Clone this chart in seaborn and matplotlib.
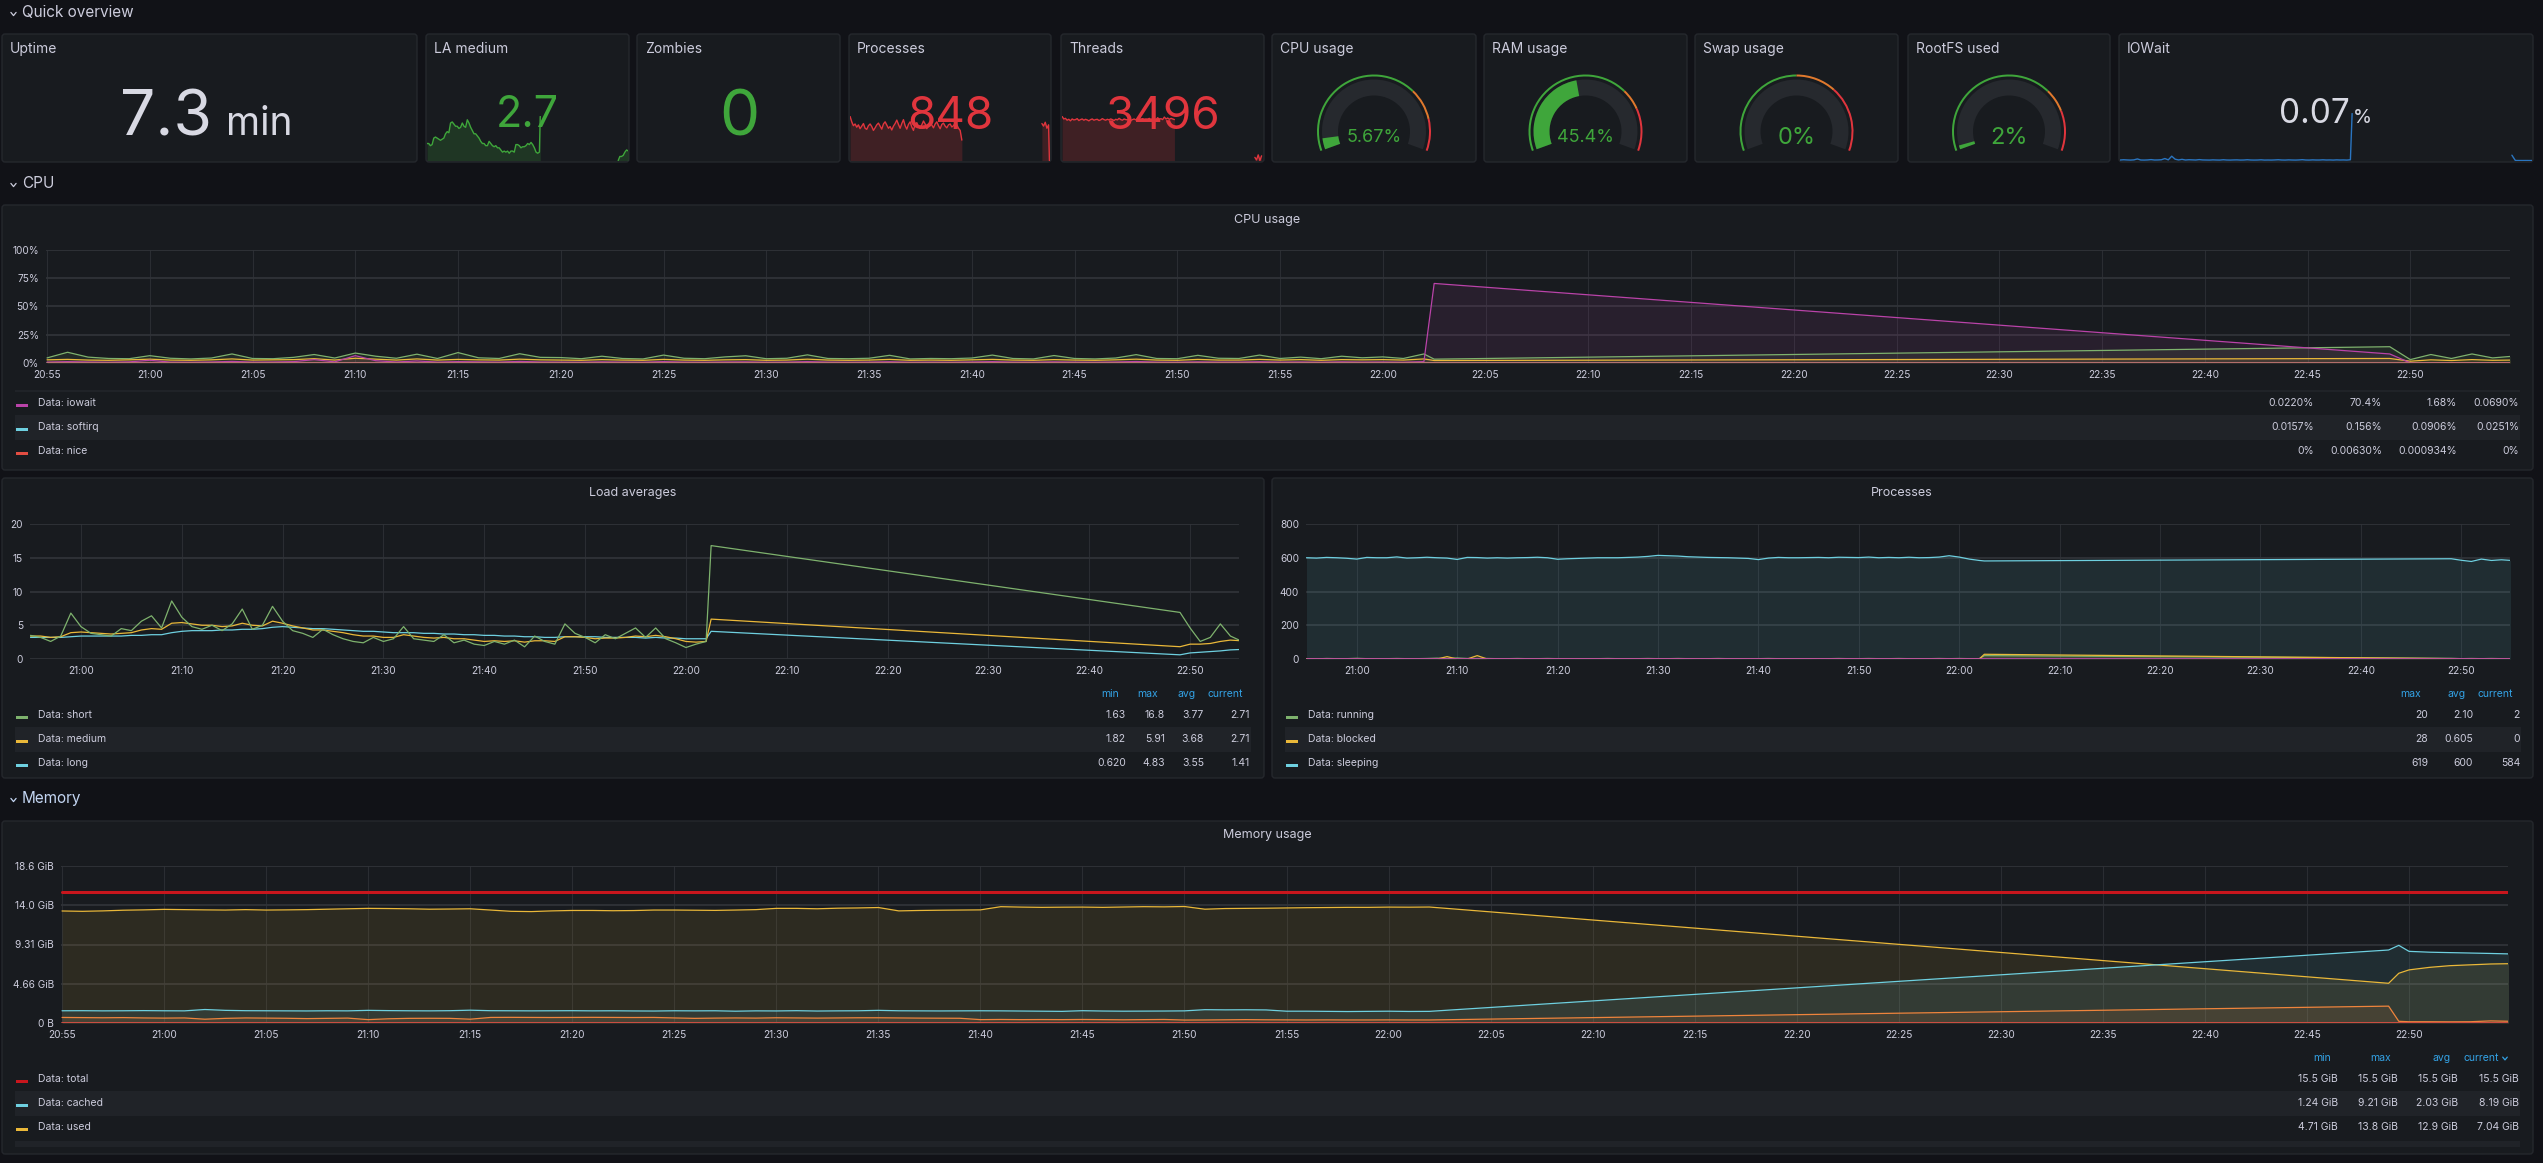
import numpy as np
import pandas as pd
import matplotlib
matplotlib.use("Agg")
import matplotlib.pyplot as plt
import matplotlib.dates as mdates
from matplotlib.patches import FancyBboxPatch, Rectangle, Wedge
import seaborn as sns

# ============================ DATA ============================
# minutes after 20:55 (data gap between 22:02 and 22:49 is connected by the graph)
t_main = list(range(68)) + [67.5] + list(range(114, 121))
t_mem = list(range(68)) + [114, 114.5, 115, 116, 117, 118, 119, 120]
t_cpu_low = [0, 5, 10, 15, 20, 25, 30, 35, 40, 45, 50, 55, 60, 65, 67.5, 114, 117, 120]
t_flat = [0, 120]

# --- CPU usage (%) ---
cpu_user = [4.5, 9.5, 5.2, 4.0, 3.8, 6.5, 4.2, 3.6, 4.4, 8.0,
            4.0, 3.8, 5.0, 7.5, 4.4, 8.8, 6.0, 4.2, 7.8, 4.0,
            9.2, 4.6, 4.0, 8.2, 5.0, 4.8, 3.8, 6.0, 4.0, 3.6,
            7.0, 4.2, 3.8, 5.4, 6.4, 3.8, 4.2, 7.2, 4.0, 3.8,
            4.2, 6.8, 3.6, 4.0, 3.8, 4.4, 7.0, 4.0, 3.6, 6.6,
            4.0, 3.6, 4.4, 7.4, 4.0, 3.8, 6.8, 4.2, 4.0, 7.0,
            4.0, 5.2, 3.8, 6.0, 4.6, 5.4, 4.0, 8.0,
            3.4,
            14.4, 3.0, 7.5, 4.0, 8.0, 4.5, 6.0]
cpu_system = [2.8, 3.2, 2.6, 2.4, 2.8, 3.4, 2.6, 2.4, 2.8, 3.6,
              2.6, 2.8, 3.0, 3.8, 2.6, 4.2, 3.4, 2.6, 3.6, 2.6,
              3.2, 2.8, 2.6, 3.4, 2.8, 2.6, 2.4, 3.0, 2.6, 2.4,
              3.2, 2.6, 2.4, 2.8, 3.0, 2.4, 2.6, 3.4, 2.6, 2.4,
              2.6, 3.2, 2.4, 2.6, 2.4, 2.8, 3.2, 2.6, 2.4, 3.0,
              2.6, 2.4, 2.8, 3.4, 2.6, 2.4, 3.2, 2.6, 2.6, 3.2,
              2.6, 3.0, 2.4, 3.0, 2.8, 3.0, 2.6, 3.6,
              2.2,
              4.0, 1.6, 2.8, 2.2, 3.0, 2.4, 2.6]
cpu_iowait = [0.8, 1.2, 0.9, 0.7, 1.0, 2.4, 0.8, 0.7, 0.9, 1.4,
              0.8, 0.9, 1.2, 3.0, 1.0, 6.5, 2.0, 0.9, 1.8, 0.8,
              1.2, 1.0, 0.8, 1.4, 0.9, 0.8, 0.7, 1.0, 0.8, 0.7,
              1.2, 0.8, 0.7, 0.9, 1.0, 0.7, 0.8, 1.2, 0.8, 0.7,
              0.8, 1.1, 0.7, 0.8, 0.7, 0.9, 1.2, 0.8, 0.7, 1.0,
              0.8, 0.7, 0.9, 1.3, 0.8, 0.7, 1.0, 0.8, 0.8, 1.1,
              0.8, 0.9, 0.7, 1.0, 0.8, 0.9, 0.7, 1.2,
              70.4,
              8.0, 0.1, 0.05, 0.03, 0.06, 0.02, 0.069]
cpu_softirq = [0.09, 0.10, 0.12, 0.11, 0.09, 0.10, 0.08, 0.09, 0.10, 0.08,
               0.09, 0.10, 0.09, 0.11, 0.156, 0.05, 0.03, 0.025]
cpu_nice = [0, 0, 0.006, 0, 0, 0, 0, 0.003, 0, 0, 0, 0, 0, 0, 0, 0, 0, 0]

# --- Load averages ---
load_short = [3.5, 3.2, 2.6, 3.4, 6.8, 4.8, 3.8, 3.6, 3.4, 4.5,
              4.2, 5.6, 6.4, 4.6, 8.6, 6.2, 4.8, 4.4, 5.0, 4.2,
              5.2, 7.4, 4.4, 5.0, 7.8, 5.6, 4.2, 3.8, 3.2, 4.4,
              3.6, 3.0, 2.6, 2.4, 3.2, 2.6, 3.0, 4.8, 3.0, 2.8,
              2.6, 3.6, 2.4, 2.8, 2.2, 2.0, 2.6, 2.2, 2.8, 1.8,
              3.4, 2.6, 2.2, 5.2, 3.8, 3.2, 2.4, 3.6, 3.0, 3.8,
              4.6, 3.2, 4.6, 3.0, 2.4, 1.7, 2.2, 2.6,
              16.8,
              6.9, 4.6, 2.6, 3.2, 5.2, 3.4, 2.71]
load_medium = [3.4, 3.4, 3.2, 3.3, 3.9, 4.0, 3.9, 3.8, 3.7, 3.8,
               3.9, 4.3, 4.5, 4.4, 5.3, 5.4, 5.2, 5.0, 5.0, 4.8,
               4.9, 5.3, 5.0, 4.9, 5.6, 5.3, 4.9, 4.6, 4.3, 4.3,
               4.1, 3.9, 3.6, 3.4, 3.4, 3.2, 3.2, 3.6, 3.4, 3.2,
               3.1, 3.2, 3.0, 3.0, 2.8, 2.6, 2.7, 2.6, 2.7, 2.5,
               2.7, 2.7, 2.6, 3.3, 3.3, 3.2, 3.0, 3.1, 3.1, 3.2,
               3.4, 3.3, 3.5, 3.3, 3.0, 2.6, 2.5, 2.6,
               5.91,
               1.82, 2.2, 2.2, 2.3, 2.6, 2.8, 2.71]
load_long = [3.2, 3.2, 3.2, 3.2, 3.3, 3.4, 3.4, 3.4, 3.4, 3.4,
             3.5, 3.5, 3.6, 3.6, 3.9, 4.1, 4.2, 4.2, 4.2, 4.3,
             4.3, 4.4, 4.4, 4.5, 4.7, 4.8, 4.7, 4.6, 4.5, 4.5,
             4.4, 4.3, 4.2, 4.1, 4.1, 4.0, 3.9, 3.9, 3.9, 3.8,
             3.8, 3.7, 3.7, 3.6, 3.6, 3.5, 3.5, 3.4, 3.4, 3.3,
             3.3, 3.2, 3.2, 3.3, 3.3, 3.3, 3.3, 3.2, 3.2, 3.2,
             3.2, 3.1, 3.2, 3.1, 3.1, 3.0, 3.0, 3.0,
             4.1,
             0.62, 0.9, 1.0, 1.1, 1.2, 1.35, 1.41]

# --- Processes ---
proc_sleeping = [600, 598, 602, 600, 597, 592, 602, 600, 600, 605,
                 598, 600, 603, 600, 598, 590, 602, 601, 598, 600,
                 598, 600, 601, 603, 600, 591, 594, 596, 598, 600,
                 600, 600, 602, 604, 608, 614, 612, 610, 606, 604,
                 602, 601, 600, 598, 596, 589, 598, 602, 600, 600,
                 601, 602, 600, 603, 602, 601, 604, 600, 602, 600,
                 603, 600, 601, 604, 612, 604, 592, 584,
                 581,
                 594, 585, 578, 592, 584, 588, 584]
proc_running = [2, 1, 3, 2, 2, 4, 2, 1, 2, 3,
                2, 2, 3, 5, 2, 6, 3, 2, 3, 2,
                2, 3, 2, 2, 3, 2, 1, 2, 2, 2,
                3, 2, 2, 2, 3, 2, 2, 3, 2, 1,
                2, 3, 2, 2, 1, 2, 3, 2, 2, 2,
                2, 1, 2, 3, 2, 2, 3, 2, 2, 3,
                2, 2, 2, 3, 2, 3, 2, 2,
                20,
                4, 2, 3, 2, 3, 2, 2]
proc_blocked = [0, 0, 0, 0, 0, 0, 0, 0, 0, 0,
                0, 0, 0, 0, 14, 0, 0, 20, 0, 0,
                0, 0, 0, 0, 0, 0, 0, 0, 0, 0,
                0, 0, 0, 0, 0, 0, 0, 0, 0, 0,
                0, 0, 0, 0, 0, 0, 0, 0, 0, 0,
                0, 0, 0, 0, 0, 0, 0, 0, 0, 0,
                0, 0, 0, 0, 0, 0, 0, 0,
                28,
                2, 0, 0, 0, 0, 0, 0]
proc_zombie = [0, 0]

# --- Memory (GiB) ---
mem_total = [15.5, 15.5]
mem_swap = [0.02, 0.02]
mem_used = [13.29, 13.25, 13.3, 13.38, 13.42, 13.48, 13.45, 13.42, 13.4, 13.45,
            13.4, 13.42, 13.45, 13.5, 13.55, 13.6, 13.58, 13.55, 13.5, 13.52,
            13.55, 13.4, 13.25, 13.22, 13.3, 13.35, 13.35, 13.32, 13.34, 13.4,
            13.4, 13.38, 13.36, 13.4, 13.45, 13.6, 13.6, 13.55, 13.62, 13.65,
            13.7, 13.3, 13.35, 13.38, 13.4, 13.42, 13.8, 13.75, 13.72, 13.74,
            13.75, 13.72, 13.76, 13.8, 13.78, 13.82, 13.5, 13.58, 13.6, 13.62,
            13.65, 13.68, 13.7, 13.72, 13.72, 13.75, 13.74, 13.76,
            4.71, 5.9, 6.3, 6.6, 6.8, 6.9, 7.0, 7.04]
mem_cached = [1.45, 1.46, 1.44, 1.45, 1.47, 1.45, 1.44, 1.60, 1.50, 1.46,
              1.45, 1.44, 1.43, 1.45, 1.44, 1.50, 1.47, 1.45, 1.44, 1.46,
              1.52, 1.46, 1.45, 1.44, 1.45, 1.46, 1.44, 1.45, 1.43, 1.42,
              1.45, 1.44, 1.45, 1.40, 1.44, 1.43, 1.46, 1.42, 1.44, 1.45,
              1.50, 1.45, 1.44, 1.43, 1.44, 1.45, 1.44, 1.42, 1.40, 1.38,
              1.46, 1.42, 1.40, 1.41, 1.42, 1.44, 1.58, 1.56, 1.57, 1.55,
              1.40, 1.40, 1.38, 1.36, 1.38, 1.40, 1.37, 1.38,
              8.66, 9.21, 8.5, 8.4, 8.35, 8.3, 8.25, 8.19]
mem_buffers = [0.66, 0.64, 0.62, 0.64, 0.60, 0.58, 0.60, 0.45, 0.55, 0.60,
               0.58, 0.56, 0.52, 0.55, 0.58, 0.40, 0.50, 0.55, 0.56, 0.55,
               0.45, 0.66, 0.67, 0.66, 0.65, 0.66, 0.67, 0.66, 0.65, 0.66,
               0.60, 0.55, 0.58, 0.60, 0.58, 0.62, 0.60, 0.58, 0.60, 0.62,
               0.62, 0.60, 0.58, 0.57, 0.56, 0.40, 0.42, 0.40, 0.41, 0.40,
               0.42, 0.40, 0.38, 0.40, 0.42, 0.35, 0.36, 0.38, 0.40, 0.38,
               0.37, 0.36, 0.37, 0.36, 0.36, 0.37, 0.36, 0.36,
               2.0, 0.2, 0.15, 0.15, 0.14, 0.15, 0.25, 0.2]

# --- Stat sparklines ---
t_spark_procs = list(range(68)) + [115, 116, 117, 118, 119, 119.5]
spark_procs = [905, 880, 862, 870, 855, 866, 848, 860, 872, 850,
               845, 862, 870, 858, 840, 852, 866, 874, 860, 846,
               870, 880, 865, 850, 858, 842, 860, 872, 888, 868,
               850, 872, 890, 862, 846, 868, 880, 856, 840, 870,
               876, 858, 850, 866, 884, 870, 848, 860, 878, 865,
               852, 870, 880, 862, 848, 868, 874, 860, 852, 866,
               870, 856, 862, 874, 866, 850, 840, 795,
               872, 860, 878, 850, 866, 700]
t_spark_threads = list(range(68)) + [115, 116, 117, 118, 119]
spark_threads = [3620, 3612, 3614, 3608, 3611, 3606, 3612, 3609, 3610, 3613,
                 3607, 3610, 3612, 3608, 3611, 3609, 3606, 3610, 3612, 3608,
                 3610, 3611, 3607, 3609, 3613, 3610, 3608, 3611, 3609, 3612,
                 3610, 3607, 3611, 3609, 3614, 3610, 3608, 3612, 3610, 3609,
                 3611, 3607, 3610, 3612, 3609, 3611, 3608, 3610, 3613, 3609,
                 3611, 3610, 3614, 3608, 3612, 3610, 3609, 3616, 3611, 3613,
                 3610, 3618, 3612, 3615, 3611, 3614, 3612, 3610,
                 3490, 3482, 3498, 3480, 3495]

# --- Stat / gauge values ---
stat_titles = ["Uptime", "LA medium", "Zombies", "Processes", "Threads",
               "CPU usage", "RAM usage", "Swap usage", "RootFS used", "IOWait"]
uptime_value, uptime_unit = "7.3", "min"
la_medium_value = "2.7"
zombies_value = "0"
processes_value = "848"
threads_value = "3496"
iowait_value, iowait_unit = "0.07", "%"
gauge_values = [5.67, 45.4, 0.0, 2.0]
gauge_labels = ["5.67%", "45.4%", "0%", "2%"]
gauge_thresholds = [(70, 85), (70, 80), (50, 69), (70, 81)]

# --- Legends ---
cpu_legend_labels = ["Data: iowait", "Data: softirq", "Data: nice"]
cpu_legend_values = [["0.0220%", "70.4%", "1.68%", "0.0690%"],
                     ["0.0157%", "0.156%", "0.0906%", "0.0251%"],
                     ["0%", "0.00630%", "0.000934%", "0%"]]
load_legend_header = ["min", "max", "avg", "current"]
load_legend_labels = ["Data: short", "Data: medium", "Data: long"]
load_legend_values = [["1.63", "16.8", "3.77", "2.71"],
                      ["1.82", "5.91", "3.68", "2.71"],
                      ["0.620", "4.83", "3.55", "1.41"]]
proc_legend_header = ["max", "avg", "current"]
proc_legend_labels = ["Data: running", "Data: blocked", "Data: sleeping"]
proc_legend_values = [["20", "2.10", "2"], ["28", "0.605", "0"], ["619", "600", "584"]]
mem_legend_header = ["min", "max", "avg", "current"]
mem_legend_labels = ["Data: total", "Data: cached", "Data: used"]
mem_legend_values = [["15.5 GiB", "15.5 GiB", "15.5 GiB", "15.5 GiB"],
                     ["1.24 GiB", "9.21 GiB", "2.03 GiB", "8.19 GiB"],
                     ["4.71 GiB", "13.8 GiB", "12.9 GiB", "7.04 GiB"]]
mem_ytick_labels = ["0 B", "4.66 GiB", "9.31 GiB", "14.0 GiB", "18.6 GiB"]

# ============================ STYLE ============================
sns.set_theme(style="dark")
plt.rcParams['font.family'] = ['Inter', 'DejaVu Sans']

BG = '#111217'
PANEL = '#181b1f'
BORDER = '#25282d'
TXT = '#ccccdc'
BAND = '#202328'
HGRID = '#303338'
VGRID = '#2a2d32'
BLUE_HDR = '#33a2e5'
GREEN = '#7eb26d'
YELLOW = '#eab839'
CYAN = '#6ed0e0'
MAGENTA = '#ba43a9'
RED = '#e24d42'
ORANGE = '#ef843c'
DARKRED = '#c8161d'
STAT_GREEN = '#3fa63b'
STAT_RED = '#e0353d'
TH_ORANGE = '#e0792d'
TH_RED = '#e0353d'
GAUGE_BG = '#26292e'

W, H = 2543, 1163
fig = plt.figure(figsize=(W / 100, H / 100), dpi=100, facecolor=BG)


def rect(x0, y0, x1, y1):
    return [x0 / W, 1 - y1 / H, (x1 - x0) / W, (y1 - y0) / H]


bg = fig.add_axes([0, 0, 1, 1])
bg.set_xlim(0, W)
bg.set_ylim(H, 0)
bg.axis('off')
bg.set_zorder(0)

T0 = pd.Timestamp("2023-05-10 20:55")
XMIN = T0 - pd.Timedelta(minutes=0.05)
XMAX = T0 + pd.Timedelta(minutes=119.85)


def T(mins):
    return T0 + pd.to_timedelta(np.asarray(mins, dtype=float), unit='min')


def panel(x0, y0, x1, y1):
    bg.add_patch(FancyBboxPatch((x0, y0), x1 - x0, y1 - y0,
                                boxstyle='round,pad=0,rounding_size=3',
                                fc=PANEL, ec=BORDER, lw=1, zorder=0.5))


def chevron(x, y, color=TXT, w=2.6, h=1.6):
    bg.plot([x - w, x, x + w], [y - h, y + h, y - h], color=color, lw=0.9,
            solid_capstyle='round', solid_joinstyle='round', zorder=3)


def section(y, text, color=TXT):
    chevron(13.5, y + 1, color=color)
    bg.text(22, y, text, color=color, fontsize=11, va='center', ha='left')


# ---------- section headers ----------
section(13, "Quick overview")
section(184, "CPU")
section(799, "Memory", color='#c3d5f2')

# ---------- top stat panels ----------
top_panels = [(2, 34, 417, 162), (426, 34, 629, 162), (637, 34, 840, 162),
              (849, 34, 1051, 162), (1061, 34, 1264, 162), (1272, 34, 1476, 162),
              (1484, 34, 1687, 162), (1695, 34, 1898, 162), (1908, 34, 2110, 162),
              (2119, 34, 2533, 162)]
for (x0, y0, x1, y1), title in zip(top_panels, stat_titles):
    panel(x0, y0, x1, y1)
    bg.text(x0 + 8, 49, title, color=TXT, fontsize=10, va='center', ha='left', zorder=3)

# main panels
panel(2, 205, 2533, 470)
panel(2, 478, 1264, 778)
panel(1272, 478, 2533, 778)
panel(2, 821, 2533, 1154)


def sparkline(box, tmins, vals, color, split, fill=True, lw=1.0, fill_alpha=0.2):
    ax = fig.add_axes(rect(*box))
    ax.set_zorder(1)
    ax.patch.set_alpha(0)
    tm = np.asarray(tmins, dtype=float)
    v = np.asarray(vals, dtype=float)
    lo, hi = v.min(), v.max()
    for mask in (tm <= split, tm > split):
        if mask.sum() == 0:
            continue
        sns.lineplot(x=T(tm[mask]), y=v[mask], ax=ax, color=color, linewidth=lw,
                     estimator=None, sort=False)
        if fill:
            ax.fill_between(T(tm[mask]), v[mask], lo, color=color, alpha=fill_alpha, lw=0)
    ax.set_xlim(XMIN, XMAX)
    ax.set_ylim(lo - 0.01 * (hi - lo), hi + 0.01 * (hi - lo))
    ax.axis('off')
    return ax


# sparklines
sparkline((427, 116, 628, 161), t_main, load_medium, STAT_GREEN, 68, fill=True)
sparkline((850, 116, 1050, 161), t_spark_procs, spark_procs, STAT_RED, 68, fill=True)
sparkline((1062, 116, 1263, 161), t_spark_threads, spark_threads, STAT_RED, 68, fill=True)
sparkline((2120, 113, 2532, 161), t_main, cpu_iowait, '#2a75c0', 68, fill=False, lw=1.0)

# stat values
bg.text(212, 135, uptime_value, color='#d8d9e3', fontsize=45, ha='right', va='baseline', zorder=3)
bg.text(226, 135, uptime_unit, color='#d8d9e3', fontsize=28, ha='left', va='baseline', zorder=3)
bg.text(527, 127, la_medium_value, color=STAT_GREEN, fontsize=31, ha='center', va='baseline', zorder=3)
bg.text(739, 135, zombies_value, color=STAT_GREEN, fontsize=46, ha='center', va='baseline', zorder=3)
bg.text(950, 129, processes_value, color=STAT_RED, fontsize=33, ha='center', va='baseline', zorder=3)
bg.text(1162, 129, threads_value, color=STAT_RED, fontsize=33, ha='center', va='baseline', zorder=3)
bg.text(2350, 123, iowait_value, color='#d8d9e3', fontsize=24, ha='right', va='baseline', zorder=3)
bg.text(2353, 123, iowait_unit, color='#d8d9e3', fontsize=14, ha='left', va='baseline', zorder=3)

# gauges
START, SWEEP = 200.0, 220.0


def ang(p):
    return START - SWEEP * p / 100.0


for i, (val, lab, (th1, th2)) in enumerate(zip(gauge_values, gauge_labels, gauge_thresholds)):
    x0, y0, x1, y1 = top_panels[5 + i]
    cx, cy = (x0 + x1) / 2.0, 131.5
    ax = fig.add_axes(rect(cx - 62, cy - 60, cx + 62, cy + 28))
    ax.set_zorder(1)
    ax.patch.set_alpha(0)
    ax.set_xlim(-62, 62)
    ax.set_ylim(-28, 60)
    ax.axis('off')
    for a, b, c in ((0, th1, STAT_GREEN), (th1, th2, TH_ORANGE), (th2, 100, TH_RED)):
        ax.add_patch(Wedge((0, 0), 57, ang(b), ang(a), width=2.0, color=c, lw=0))
    ax.add_patch(Wedge((0, 0), 52, ang(100), ang(0), width=16, color=GAUGE_BG, lw=0))
    if val > 0:
        ax.add_patch(Wedge((0, 0), 52, ang(val), ang(0), width=16, color=STAT_GREEN, lw=0))
    fs = 13 if len(lab) > 3 else 17
    ax.text(0, -6.5, lab, color=STAT_GREEN, fontsize=fs, ha='center', va='center')


# ---------- chart helpers ----------
def chart_axes(box):
    ax = fig.add_axes(rect(*box))
    ax.set_zorder(2)
    ax.patch.set_alpha(0)
    return ax


def style_chart(ax, ylim, yticks, ylabels, step):
    ax.set_xlim(XMIN, XMAX)
    ax.set_ylim(*ylim)
    ax.set_yticks(yticks)
    ax.set_yticklabels(ylabels)
    ax.xaxis.set_major_locator(mdates.MinuteLocator(byminute=list(range(0, 60, step))))
    ax.xaxis.set_major_formatter(mdates.DateFormatter('%H:%M'))
    ax.grid(False)
    ax.grid(axis='y', color=HGRID, lw=1.3)
    ax.grid(axis='x', color=VGRID, lw=0.8)
    ax.set_axisbelow(True)
    for s in ax.spines.values():
        s.set_visible(False)
    ax.tick_params(length=0, labelsize=7.3, colors=TXT, pad=5)
    ax.set_xlabel('')
    ax.set_ylabel('')


def line(ax, tm, vals, color, lw=0.9, fill=None, z=3):
    sns.lineplot(x=T(tm), y=vals, ax=ax, color=color, linewidth=lw,
                 estimator=None, sort=False, zorder=z)
    if fill:
        ax.fill_between(T(tm), vals, 0, color=color, alpha=fill, lw=0, zorder=1)


def legend(px0, px1, rows_y, labels, colors, values, value_right,
           header=None, header_right=None, header_y=None, extra_band=None):
    for i, y in enumerate(rows_y):
        if i % 2 == 1:
            bg.add_patch(Rectangle((px0, y - 12), px1 - px0, 24.5, color=BAND, lw=0, zorder=1))
        bg.add_patch(Rectangle((px0 + 1, y + 0.5), 12, 3.5, color=colors[i], lw=0, zorder=2))
        bg.text(px0 + 23, y, labels[i], color=TXT, fontsize=7.5, ha='left', va='center', zorder=3)
        for v, xr in zip(values[i], value_right):
            bg.text(xr, y, v, color=TXT, fontsize=7.5, ha='right', va='center', zorder=3)
    if header:
        for h, xr in zip(header, header_right):
            bg.text(xr, header_y, h, color=BLUE_HDR, fontsize=7.5, ha='right', va='center', zorder=3)
    if extra_band:
        bg.add_patch(Rectangle((px0, extra_band[0]), px1 - px0, extra_band[1] - extra_band[0],
                               color=BAND, lw=0, zorder=1))


# ---------- CPU usage ----------
bg.text(1267, 220, "CPU usage", color=TXT, fontsize=9, ha='center', va='center', zorder=3)
ax = chart_axes((46, 250, 2510, 363))
line(ax, t_main, cpu_user, GREEN, fill=0.1)
line(ax, t_main, cpu_system, YELLOW, fill=0.1)
line(ax, t_main, cpu_iowait, MAGENTA, fill=0.1)
line(ax, t_cpu_low, cpu_softirq, CYAN, fill=0.1)
line(ax, t_cpu_low, cpu_nice, RED, fill=0.1)
style_chart(ax, (0, 100), [0, 25, 50, 75, 100], ["0%", "25%", "50%", "75%", "100%"], 5)
bg.add_patch(Rectangle((15, 389.5), 2505, 2.5, color=BAND, lw=0, zorder=1))
legend(15, 2520, [403, 427, 451], cpu_legend_labels, [MAGENTA, CYAN, RED],
       cpu_legend_values, [2314, 2382, 2457, 2519])

# ---------- Load averages ----------
bg.text(633, 493, "Load averages", color=TXT, fontsize=9, ha='center', va='center', zorder=3)
ax = chart_axes((30, 524, 1239, 659))
line(ax, t_main, load_long, CYAN)
line(ax, t_main, load_medium, YELLOW)
line(ax, t_main, load_short, GREEN)
style_chart(ax, (0, 20), [0, 5, 10, 15, 20], ["0", "5", "10", "15", "20"], 10)
legend(15, 1251, [715, 739, 763], load_legend_labels, [GREEN, YELLOW, CYAN],
       load_legend_values, [1126, 1165, 1204, 1250],
       header=load_legend_header, header_right=[1119, 1158, 1196, 1243], header_y=694)

# ---------- Processes ----------
bg.text(1902, 493, "Processes", color=TXT, fontsize=9, ha='center', va='center', zorder=3)
ax = chart_axes((1306, 524, 2510, 659))
line(ax, t_main, proc_sleeping, CYAN, fill=0.1)
line(ax, t_main, proc_running, GREEN, fill=0.1)
line(ax, t_main, proc_blocked, YELLOW, fill=0.1)
line(ax, t_flat, proc_zombie, MAGENTA, lw=1.2)
style_chart(ax, (0, 800), [0, 200, 400, 600, 800], ["0", "200", "400", "600", "800"], 10)
legend(1285, 2521, [715, 739, 763], proc_legend_labels, [GREEN, YELLOW, CYAN],
       proc_legend_values, [2428, 2473, 2520],
       header=proc_legend_header, header_right=[2421, 2466, 2513], header_y=694)

# ---------- Memory usage ----------
bg.text(1267, 835, "Memory usage", color=TXT, fontsize=9, ha='center', va='center', zorder=3)
ax = chart_axes((61, 866, 2508, 1023))
GIB_STEP = 5e9 / 2 ** 30
line(ax, t_mem, mem_used, YELLOW, fill=0.1)
line(ax, t_mem, mem_cached, CYAN, fill=0.1)
line(ax, t_mem, mem_buffers, ORANGE, fill=0.1)
line(ax, t_flat, mem_swap, RED, lw=1.2)
line(ax, t_flat, mem_total, DARKRED, lw=2.2, z=4)
style_chart(ax, (0, 4 * GIB_STEP), [k * GIB_STEP for k in range(5)], mem_ytick_labels, 5)
legend(15, 2520, [1079, 1103, 1127], mem_legend_labels, [DARKRED, CYAN, YELLOW],
       mem_legend_values, [2338, 2398, 2458, 2519],
       header=mem_legend_header, header_right=[2331, 2391, 2451, 2499], header_y=1058,
       extra_band=(1141, 1147))
chevron(2505, 1058.5, color=BLUE_HDR, w=2.3, h=1.4)

fig.savefig("out.png", dpi=100, facecolor=BG)
